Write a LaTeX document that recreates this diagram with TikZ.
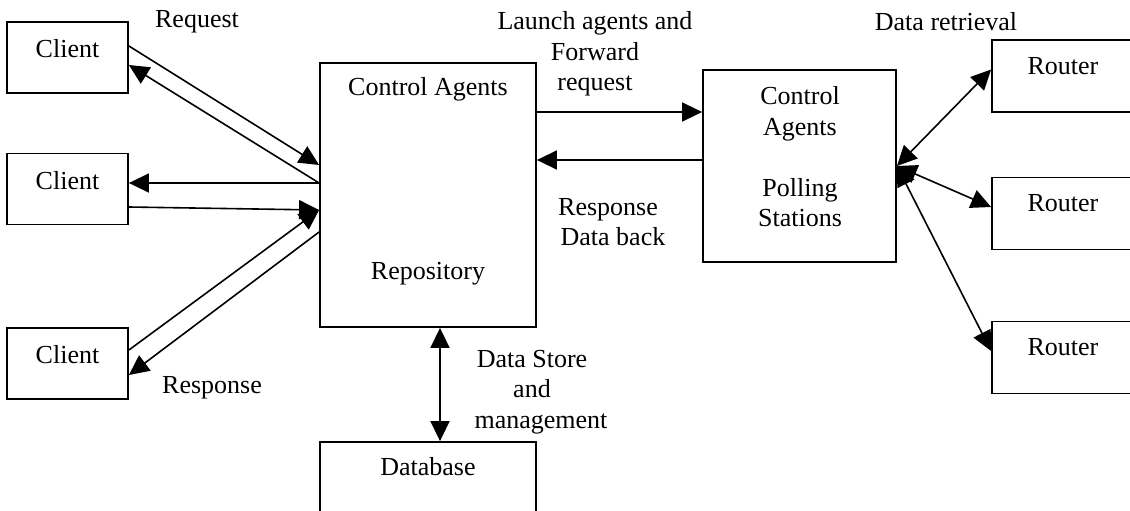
\documentclass[tikz,border=0pt]{standalone}
\usepackage{fontspec}
\setmainfont{Liberation Serif}
\usetikzlibrary{arrows.meta}
\begin{document}
\begin{tikzpicture}[x=1pt,y=-1pt,
    font=\fontsize{26}{30.5}\selectfont,
    box/.style={draw, line width=1.8pt, inner sep=0pt},
    lbl/.style={inner sep=0pt, align=center},
    conn/.style={line width=1.6pt, -{Triangle[length=20pt,width=19pt]}},
    both/.style={line width=1.6pt, {Triangle[length=20pt,width=19pt]}-{Triangle[length=20pt,width=19pt]}}]
  \clip (0,0) rectangle (1130,511);
  % clients on the left
  \foreach \i/\y in {1/57.5,2/189,3/363.5}{
    \node[box, minimum width=121pt, minimum height=71pt] (cl\i) at (67.5,\y) {};
    \node[lbl] (cl\i txt) at ([yshift=-28pt]cl\i.north) {Client};
  }
  % central agents
  \node[box, minimum width=216pt, minimum height=264pt] (ctrl) at (428,195) {};
  \node[lbl] (ctrltop) at ([yshift=-27pt]ctrl.north) {Control Agents};
  \node[lbl] (ctrlbot) at ([yshift=-212pt]ctrl.north) {Repository};
  \node[box, minimum width=216pt, minimum height=100pt] (db) at (428,492) {};
  \node[lbl] (dbtxt) at ([yshift=-26pt]db.north) {Database};
  % polling stations
  \node[box, minimum width=193pt, minimum height=192pt] (poll) at (799.5,166) {};
  \node[lbl] (polltxt) at (800,157) {Control\\Agents\\[30.5pt]Polling\\Stations};
  % routers on the right
  \foreach \i/\y in {1/76,2/213.5,3/357.5}{
    \node[box, minimum width=148pt, minimum height=72pt] (rt\i) at (1066,\y) {};
    \node[lbl] (rt\i txt) at ([yshift=-27pt,xshift=-3pt]rt\i.north) {Router};
    \draw[both] (poll.east) -- ([yshift=6.5pt]rt\i.west);
  }
  % client traffic
  \draw[conn] ([yshift=11.5pt]cl1.east) -- ([yshift=30pt]ctrl.west);
  \draw[conn] ([yshift=12pt]ctrl.west) -- ([yshift=-7.5pt]cl1.east);
  \draw[conn] ([yshift=12pt]ctrl.west) -- ([yshift=6pt]cl2.east);
  \draw[conn] ([yshift=-18pt]cl2.east) -- ([yshift=-15pt]ctrl.west);
  \draw[conn] ([yshift=13.5pt]cl3.east) -- ([yshift=-15pt]ctrl.west);
  \draw[conn] ([yshift=-37pt]ctrl.west) -- ([yshift=-11.5pt]cl3.east);
  % agents to polling stations
  \draw[conn] ([yshift=83pt]ctrl.east) -- ([yshift=54pt]poll.west);
  \draw[conn] ([yshift=6pt]poll.west) -- ([yshift=35pt]ctrl.east);
  \draw[both] ([xshift=12pt]ctrl.south) -- ([xshift=12pt]db.north);
  % labels
  \node[lbl] (req) at (197,22) {Request};
  \node[lbl] (resp) at (212,388) {Response};
  \node[lbl] (launch) at (595,54) {Launch agents and\\Forward\\request};
  \node[lbl] (back) at (608,222) {Response\\\hspace{10pt}Data back};
  \node[lbl] (store) at (532,392) {Data Store\\and\\\hspace{18pt}management};
  \node[lbl] (retr) at (946,22) {Data retrieval};
\end{tikzpicture}
\end{document}
